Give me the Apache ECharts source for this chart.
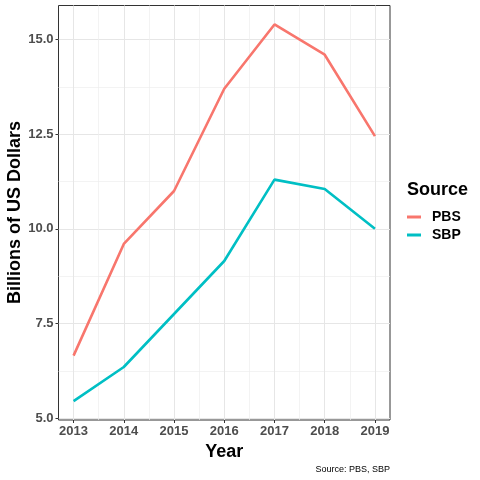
<!DOCTYPE html>
<html>
<head>
<meta charset="utf-8">
<script src="https://cdn.jsdelivr.net/npm/echarts@6/dist/echarts.min.js"></script>
<style>
  html, body { margin: 0; padding: 0; background: #fff; }
  #chart { width: 480px; height: 480px; }
</style>
</head>
<body>
<div id="chart"></div>
<script>
// data
const years = [2013, 2014, 2015, 2016, 2017, 2018, 2019]
const pbs = [6.65, 9.6, 11.0, 13.7, 15.4, 14.6, 12.45]
const sbp = [5.45, 6.35, 7.75, 9.15, 11.3, 11.05, 10.0]
const yTicks = [5, 7.5, 10, 12.5, 15]
const yMinor = [6.25, 8.75, 11.25, 13.75]
const xMinor = [2013.5, 2014.5, 2015.5, 2016.5, 2017.5, 2018.5]

const yMin = 4.95
const yMax = 15.9
const xMin = 2012.7
const xMax = 2019.3

const tickFont = { color: '#4d4d4d', fontWeight: 'bold', fontSize: 13, fontFamily: 'Liberation Sans' }
const gridMajor = { show: true, lineStyle: { color: '#e6e6e6', width: 1 } }
const gridMinor = { show: true, lineStyle: { color: '#eeeeee', width: 0.7 } }

const chart = echarts.init(document.getElementById('chart'))

chart.setOption({
  animation: false,
  title: {
    text: 'Source',
    left: 407,
    top: 181,
    textStyle: { fontSize: 18, fontWeight: 'bold', color: '#000', fontFamily: 'Liberation Sans' },
    padding: 0
  },
  legend: {
    orient: 'vertical',
    left: 407,
    top: 210,
    icon: 'rect',
    itemWidth: 14,
    itemHeight: 3,
    itemGap: 4,
    padding: 0,
    data: ['PBS', 'SBP'],
    textStyle: { fontSize: 14, fontWeight: 'bold', color: '#000', fontFamily: 'Liberation Sans', padding: [0, 0, 0, 6] }
  },
  grid: {
    left: 58.5,
    right: 90,
    top: 5.5,
    bottom: 60,
    containLabel: false,
    outerBoundsMode: 'none',
    show: true,
    borderColor: '#333',
    borderWidth: 1,
    backgroundColor: 'transparent'
  },
  xAxis: [
    {
      type: 'value',
      min: xMin,
      max: xMax,
      name: 'Year',
      nameLocation: 'middle',
      nameGap: 21,
      nameTextStyle: { fontSize: 18, fontWeight: 'bold', color: '#000', fontFamily: 'Liberation Sans', verticalAlign: 'top' },
      axisLine: { show: false },
      axisTick: { show: true, length: 3, lineStyle: { color: '#333' }, customValues: years },
      axisLabel: { ...tickFont, margin: 5, customValues: years, formatter: v => String(v) },
      splitLine: gridMajor
    },
    {
      type: 'value',
      min: xMin,
      max: xMax,
      position: 'bottom',
      axisLine: { show: false },
      axisTick: { show: false, customValues: xMinor },
      axisLabel: { show: false, customValues: xMinor },
      splitLine: gridMinor
    }
  ],
  yAxis: [
    {
      type: 'value',
      min: yMin,
      max: yMax,
      axisLine: { show: false },
      axisTick: { show: true, length: 3, lineStyle: { color: '#333' }, customValues: yTicks },
      axisLabel: { ...tickFont, margin: 5, customValues: yTicks, formatter: v => v.toFixed(1) },
      splitLine: gridMajor
    },
    {
      type: 'value',
      min: yMin,
      max: yMax,
      position: 'left',
      axisLine: { show: false },
      axisTick: { show: false, customValues: yMinor },
      axisLabel: { show: false, customValues: yMinor },
      splitLine: gridMinor
    }
  ],
  series: [
    {
      name: 'PBS',
      type: 'line',
      showSymbol: false,
      color: '#F8766D',
      lineStyle: { width: 2.6 },
      data: years.map((y, i) => [y, pbs[i]])
    },
    {
      name: 'SBP',
      type: 'line',
      showSymbol: false,
      color: '#00BFC4',
      lineStyle: { width: 2.6 },
      data: years.map((y, i) => [y, sbp[i]])
    }
  ],
  graphic: [
    {
      // y axis title
      type: 'text',
      x: 15,
      y: 212.5,
      rotation: Math.PI / 2,
      style: {
        text: 'Billions of US Dollars',
        fontSize: 18,
        fontWeight: 'bold',
        fill: '#000',
        fontFamily: 'Liberation Sans',
        align: 'center',
        verticalAlign: 'middle'
      }
    },
    {
      type: 'text',
      right: 90,
      top: 465,
      style: { text: 'Source: PBS, SBP', fontSize: 9, fill: '#000', fontFamily: 'Liberation Sans' }
    }
  ]
})
</script>
</body>
</html>
